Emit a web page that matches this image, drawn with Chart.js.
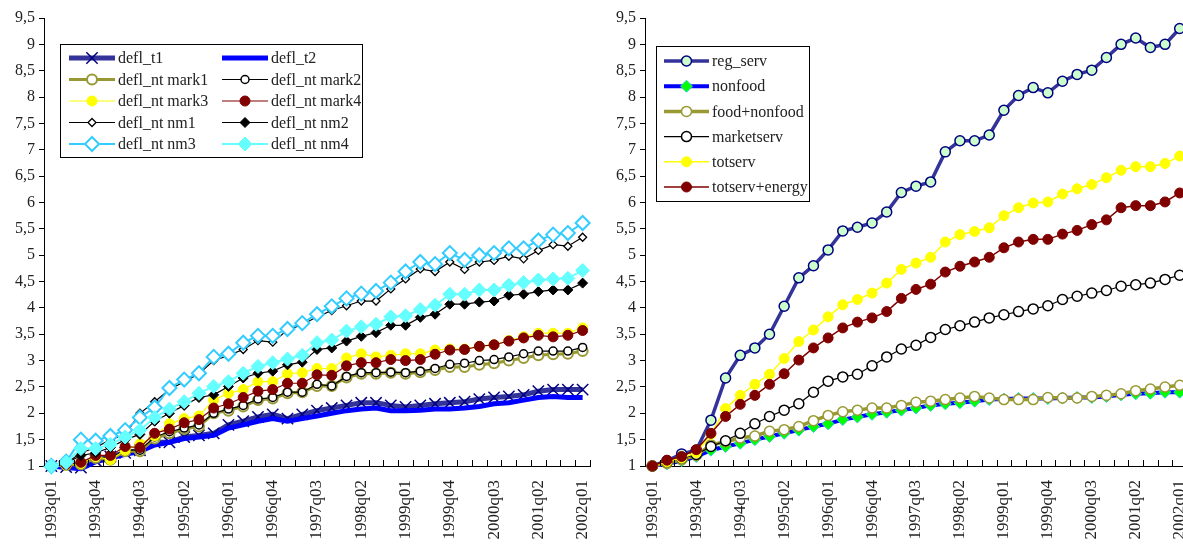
<!DOCTYPE html>
<html lang="en">
<head>
<meta charset="UTF-8">
<title>Deflators</title>
<script src="https://cdn.jsdelivr.net/npm/chart.js"></script>
<style>
  body { margin: 0; background: #fff; overflow: hidden; }
  .box { position: absolute; top: 0; height: 546px; overflow: hidden; }
</style>
</head>
<body>
<div class="box" style="left:0;width:600px"><canvas id="left" width="600" height="546"></canvas></div>
<div class="box" style="left:600px;width:583px"><canvas id="right" width="594" height="546"></canvas></div>
<script>
// quarters on the x axis
var quarters = [
  '1993q01','1993q02','1993q03','1993q04','1994q01','1994q02','1994q03','1994q04',
  '1995q01','1995q02','1995q03','1995q04','1996q01','1996q02','1996q03','1996q04',
  '1997q01','1997q02','1997q03','1997q04','1998q01','1998q02','1998q03','1998q04',
  '1999q01','1999q02','1999q03','1999q04','2000q01','2000q02','2000q03','2000q04',
  '2001q01','2001q02','2001q03','2001q04','2002q01'
];
var yTicks = [1, 1.5, 2, 2.5, 3, 3.5, 4, 4.5, 5, 5.5, 6, 6.5, 7, 7.5, 8, 8.5, 9, 9.5];

// left panel
var deflT1 = [1.0,0.98,0.97,1.1,1.18,1.25,1.3,1.45,1.45,1.55,1.58,1.62,1.78,1.85,1.93,1.98,1.9,1.98,2.05,2.1,2.15,2.2,2.2,2.15,2.12,2.15,2.18,2.2,2.22,2.27,2.3,2.32,2.35,2.42,2.45,2.45,2.45];
var deflT2 = [1.0,0.97,0.95,1.08,1.15,1.22,1.28,1.4,1.45,1.52,1.55,1.58,1.72,1.78,1.85,1.9,1.85,1.9,1.95,2.0,2.05,2.08,2.1,2.05,2.05,2.06,2.08,2.08,2.1,2.13,2.18,2.2,2.25,2.3,2.32,2.3,2.3];
var mark1 = [1.0,1.02,1.03,1.15,1.12,1.28,1.28,1.52,1.62,1.7,1.75,2.0,2.05,2.13,2.25,2.28,2.38,2.4,2.52,2.52,2.68,2.75,2.75,2.77,2.75,2.78,2.82,2.88,2.88,2.92,2.95,3.0,3.05,3.1,3.12,3.13,3.18];
var mark2 = [1.0,1.02,1.05,1.18,1.15,1.3,1.3,1.55,1.65,1.72,1.78,2.0,2.08,2.15,2.27,2.3,2.4,2.4,2.55,2.52,2.7,2.77,2.77,2.78,2.77,2.8,2.85,2.93,2.95,3.0,3.02,3.07,3.13,3.18,3.18,3.18,3.25];
var mark3 = [1.0,1.02,1.05,1.18,1.12,1.3,1.42,1.57,1.8,1.9,1.95,2.25,2.38,2.45,2.6,2.6,2.75,2.77,2.85,2.85,3.05,3.13,3.07,3.1,3.13,3.13,3.2,3.22,3.22,3.27,3.3,3.38,3.45,3.52,3.52,3.52,3.62];
var mark4 = [1.0,1.03,1.07,1.2,1.2,1.37,1.35,1.62,1.7,1.82,1.88,2.1,2.18,2.3,2.42,2.45,2.57,2.57,2.73,2.72,2.9,2.96,2.96,3.02,3.0,3.02,3.12,3.2,3.21,3.27,3.3,3.37,3.43,3.48,3.45,3.48,3.57];
var nm1 = [1.0,1.05,1.25,1.35,1.5,1.6,2.0,2.22,2.45,2.6,2.75,3.0,3.1,3.21,3.38,3.35,3.58,3.68,3.83,3.95,4.04,4.13,4.13,4.36,4.55,4.74,4.69,4.87,4.73,4.87,4.9,4.98,4.93,5.09,5.2,5.17,5.34];
var nm2 = [1.0,1.05,1.2,1.25,1.35,1.5,1.6,1.85,2.0,2.15,2.3,2.35,2.51,2.67,2.76,2.8,2.92,2.97,3.21,3.24,3.37,3.46,3.53,3.67,3.67,3.82,3.88,4.07,4.07,4.11,4.13,4.24,4.26,4.31,4.34,4.34,4.47];
var nm3 = [1.0,1.08,1.5,1.48,1.57,1.68,1.92,2.11,2.48,2.64,2.76,3.07,3.13,3.34,3.47,3.47,3.6,3.71,3.88,4.03,4.18,4.27,4.32,4.48,4.69,4.87,4.83,5.04,4.91,5.0,5.04,5.13,5.13,5.28,5.39,5.42,5.61];
var nm4 = [1.0,1.07,1.33,1.33,1.41,1.55,1.68,1.92,2.08,2.22,2.38,2.51,2.6,2.76,2.89,2.96,3.03,3.1,3.34,3.39,3.56,3.64,3.69,3.83,3.85,3.97,4.05,4.26,4.26,4.34,4.34,4.43,4.48,4.53,4.55,4.56,4.71];

// right panel
var regServ = [1.0,1.1,1.23,1.3,1.87,2.67,3.1,3.24,3.5,4.03,4.57,4.8,5.1,5.46,5.53,5.61,5.82,6.19,6.31,6.39,6.96,7.17,7.17,7.28,7.75,8.03,8.18,8.08,8.3,8.43,8.51,8.75,9.0,9.12,8.94,9.0,9.3];
var nonfood = [1.0,1.04,1.1,1.18,1.3,1.37,1.43,1.5,1.56,1.62,1.68,1.75,1.8,1.88,1.93,1.98,2.02,2.06,2.1,2.15,2.18,2.2,2.23,2.26,2.27,2.28,2.28,2.28,2.29,2.3,2.3,2.32,2.35,2.37,2.38,2.4,2.4];
var foodNonfood = [1.0,1.05,1.12,1.2,1.4,1.46,1.53,1.57,1.66,1.69,1.75,1.86,1.96,2.03,2.06,2.1,2.1,2.15,2.21,2.23,2.26,2.29,2.32,2.29,2.26,2.26,2.26,2.3,2.29,2.29,2.32,2.34,2.37,2.43,2.46,2.5,2.53];
var marketServ = [1.0,1.08,1.15,1.22,1.37,1.48,1.62,1.8,1.94,2.06,2.18,2.4,2.61,2.69,2.74,2.9,3.07,3.22,3.29,3.44,3.59,3.66,3.73,3.81,3.87,3.93,3.98,4.04,4.16,4.22,4.28,4.33,4.41,4.44,4.47,4.54,4.62];
var totServ = [1.0,1.08,1.15,1.25,1.6,2.09,2.34,2.55,2.74,3.04,3.36,3.58,3.83,4.06,4.16,4.28,4.47,4.73,4.85,4.96,5.25,5.39,5.45,5.52,5.75,5.9,5.99,6.01,6.16,6.26,6.34,6.47,6.61,6.68,6.68,6.74,6.88];
var totServEnergy = [1.0,1.11,1.18,1.31,1.62,1.94,2.17,2.34,2.55,2.75,3.01,3.24,3.43,3.62,3.73,3.81,3.93,4.18,4.35,4.45,4.68,4.79,4.87,4.96,5.14,5.25,5.3,5.3,5.4,5.47,5.58,5.67,5.9,5.94,5.94,6.01,6.18];

var FONT = '"Liberation Serif", "DejaVu Serif", serif';

function ds(label, data, color, width, style, radius, fill, border, bw) {
  return {
    label: label, data: data,
    borderColor: color, borderWidth: width,
    pointStyle: style || false, pointRadius: style ? radius : 0,
    pointBackgroundColor: fill, pointBorderColor: border, pointBorderWidth: bw || 1,
    pointHoverRadius: radius, tension: 0, clip: false
  };
}

function marker(ctx, d, x, y) {
  if (!d.pointStyle) return;
  var r = d.pointRadius;
  ctx.save();
  ctx.lineWidth = d.pointBorderWidth;
  ctx.strokeStyle = d.pointBorderColor;
  ctx.fillStyle = d.pointBackgroundColor;
  ctx.beginPath();
  if (d.pointStyle === 'circle') {
    ctx.arc(x, y, r, 0, Math.PI * 2);
    ctx.fill(); ctx.stroke();
  } else if (d.pointStyle === 'rectRot') {
    ctx.moveTo(x, y - r); ctx.lineTo(x + r, y); ctx.lineTo(x, y + r); ctx.lineTo(x - r, y); ctx.closePath();
    ctx.fill(); ctx.stroke();
  } else if (d.pointStyle === 'crossRot') {
    var k = r * 0.7071;
    ctx.moveTo(x - k, y - k); ctx.lineTo(x + k, y + k);
    ctx.moveTo(x + k, y - k); ctx.lineTo(x - k, y + k);
    ctx.stroke();
  }
  ctx.restore();
}

// legend box inside the plot + small inward ticks on the category axis
var boxLegend = {
  id: 'boxLegend',
  afterDraw: function (chart, args, o) {
    var ctx = chart.ctx, a = chart.chartArea;
    // x ticks between categories
    ctx.save();
    ctx.strokeStyle = '#000'; ctx.lineWidth = 1;
    var n = chart.data.labels.length, step = (a.right - a.left) / n;
    for (var k = 0; k <= n; k++) {
      var tx = Math.round(a.left + k * step) + 0.5;
      ctx.beginPath(); ctx.moveTo(tx, a.bottom); ctx.lineTo(tx, a.bottom - 6); ctx.stroke();
    }
    ctx.restore();

    ctx.save();
    ctx.fillStyle = '#fff';
    ctx.fillRect(o.x, o.y, o.w, o.h);
    ctx.strokeStyle = '#000'; ctx.lineWidth = 1;
    ctx.strokeRect(o.x + 0.5, o.y + 0.5, o.w, o.h);
    ctx.font = '16px ' + FONT;
    ctx.textBaseline = 'middle';
    ctx.fillStyle = '#222';
    chart.data.datasets.forEach(function (d, i) {
      var col = i % o.cols, row = Math.floor(i / o.cols);
      var lx = o.x + o.padX + col * o.colW;
      var ly = o.y + o.padY + row * o.rowH;
      ctx.save();
      ctx.strokeStyle = d.borderColor; ctx.lineWidth = d.borderWidth;
      ctx.beginPath(); ctx.moveTo(lx, ly); ctx.lineTo(lx + o.lineLen, ly); ctx.stroke();
      ctx.restore();
      marker(ctx, d, lx + o.lineLen / 2, ly);
      ctx.fillText(d.label, lx + o.lineLen + 3, ly + 1);
    });
    ctx.restore();
  }
};

function makeChart(id, datasets, yWidth, padRight, legend) {
  datasets.forEach(function (d, i) { d.order = datasets.length - i; });
  return new Chart(document.getElementById(id), {
    type: 'line',
    data: { labels: quarters, datasets: datasets },
    plugins: [boxLegend],
    options: {
      responsive: false,
      animation: false,
      layout: { padding: { top: 18, right: padRight, left: 0, bottom: 0 } },
      plugins: { legend: { display: false }, tooltip: { enabled: false }, boxLegend: legend },
      scales: {
        x: {
          offset: true,
          grid: { display: false },
          border: { display: true, color: '#000', width: 1 },
          afterFit: function (s) { s.height = 80; s.paddingRight = 0; s.paddingLeft = 0; },
          ticks: {
            autoSkip: false, maxRotation: 90, minRotation: 90, padding: 6,
            color: '#222', font: { family: FONT, size: 17 },
            callback: function (v, i) { return i % 3 === 0 ? quarters[i] : ''; }
          }
        },
        y: {
          min: 1, max: 9.5,
          afterBuildTicks: function (s) { s.ticks = yTicks.map(function (v) { return { value: v }; }); },
          afterFit: function (s) { s.width = yWidth; },
          grid: { drawOnChartArea: false, tickLength: 5, color: '#000' },
          border: { display: true, color: '#000', width: 1 },
          ticks: {
            padding: 4, color: '#222', font: { family: FONT, size: 16 },
            callback: function (v) { return String(v).replace('.', ','); }
          }
        }
      }
    }
  });
}

makeChart('left', [
  ds('defl_t1', deflT1, '#333399', 5, 'crossRot', 8, '#000080', '#000080', 1.5),
  ds('defl_t2', deflT2, '#0000FF', 5),
  ds('defl_nt mark1', mark1, '#999933', 3, 'circle', 5, '#fff', '#999933', 2),
  ds('defl_nt mark2', mark2, '#000000', 1.2, 'circle', 4, '#fff', '#000', 1.5),
  ds('defl_nt mark3', mark3, '#FFFF00', 1.2, 'circle', 5, '#FFFF00', '#FFFF00', 1),
  ds('defl_nt mark4', mark4, '#800000', 1.2, 'circle', 5, '#800000', '#800000', 1),
  ds('defl_nt nm1', nm1, '#000000', 1.2, 'rectRot', 4, '#fff', '#000', 1.3),
  ds('defl_nt nm2', nm2, '#000000', 1.2, 'rectRot', 5, '#000', '#000', 1),
  ds('defl_nt nm3', nm3, '#33CCFF', 2, 'rectRot', 7, '#fff', '#33CCFF', 2),
  ds('defl_nt nm4', nm4, '#66FFFF', 2, 'rectRot', 7, '#66FFFF', '#66FFFF', 1)
], 44, 10, { x: 60, y: 44, w: 302, h: 113, cols: 2, colW: 153, rowH: 21.5, padX: 9, padY: 14, lineLen: 46 });

makeChart('right', [
  ds('reg_serv', regServ, '#333399', 3.5, 'circle', 5, '#CCFFCC', '#000080', 1.5),
  ds('nonfood', nonfood, '#0000FF', 4, 'rectRot', 6, '#00FF00', '#33CCCC', 1),
  ds('food+nonfood', foodNonfood, '#999933', 3.5, 'circle', 5, '#fff', '#999933', 1.5),
  ds('marketserv', marketServ, '#000000', 1.2, 'circle', 5, '#fff', '#000', 1.5),
  ds('totserv', totServ, '#FFFF00', 1.5, 'circle', 5, '#FFFF00', '#FFFF00', 1),
  ds('totserv+energy', totServEnergy, '#800000', 1.5, 'circle', 5, '#800000', '#800000', 1)
], 45, 0, { x: 56, y: 46, w: 153, h: 155, cols: 1, colW: 150, rowH: 25.2, padX: 8, padY: 15, lineLen: 45 });
</script>
</body>
</html>
